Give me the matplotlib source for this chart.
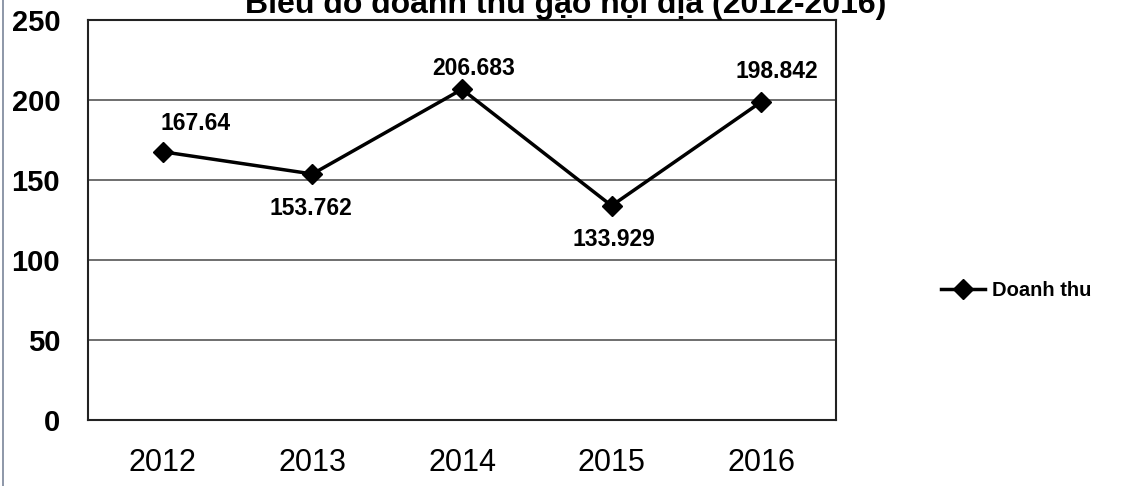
import matplotlib.pyplot as plt
from matplotlib.lines import Line2D

years = ["2012", "2013", "2014", "2015", "2016"]
revenue = [167.64, 153.762, 206.683, 133.929, 198.842]
label_offsets = [(33, 28), (-2, -35), (12, 21), (2, -34), (16, 30)]

plt.rcParams["font.family"] = ["Liberation Sans", "DejaVu Sans"]

fig = plt.figure(figsize=(11.24, 4.86), dpi=100)
ax = fig.add_axes([88 / 1124, 1 - 420 / 486, 748 / 1124, 400 / 486])

x = list(range(len(years)))
ax.plot(x, revenue, color="black", lw=2.5, marker="D", ms=10, label="Doanh thu")

for xi, v, (dx, dy) in zip(x, revenue, label_offsets):
    ax.annotate(f"{v:g}", (xi, v), xytext=(dx, dy), textcoords="offset pixels",
                ha="center", va="center", fontsize=16.5, fontweight="bold")

ax.set_xlim(-0.5, len(years) - 0.5)
ax.set_ylim(0, 250)
ax.set_yticks(range(0, 251, 50))
ax.set_xticks(x)
ax.set_xticklabels(years, fontsize=22)
for t in ax.get_yticklabels():
    t.set_fontsize(21)
    t.set_fontweight("bold")
ax.tick_params(length=0, pad=20)
ax.tick_params(axis="x", pad=20)
ax.yaxis.grid(True, color="#555555", lw=1.2)
ax.set_axisbelow(True)
for s in ax.spines.values():
    s.set_color("#222222")
    s.set_linewidth(1.5)

fig.text(0.503, 1 - 13 / 486, "Biểu đồ doanh thu gạo nội địa (2012-2016)",
         ha="center", va="baseline", fontsize=23, fontweight="bold")

ax.legend(loc="center left", bbox_to_anchor=(931 / 1124, 1 - 291 / 486),
          bbox_transform=fig.transFigure, frameon=False, handlelength=2.2,
          handletextpad=0.35, borderpad=0, prop={"size": 14.5, "weight": "bold"})

# thin border line at the left edge
fig.add_artist(Line2D([3 / 1124, 3 / 1124], [0, 1], transform=fig.transFigure,
                      color="#7a8599", lw=1.2))

fig.savefig("out.png", dpi=100)
